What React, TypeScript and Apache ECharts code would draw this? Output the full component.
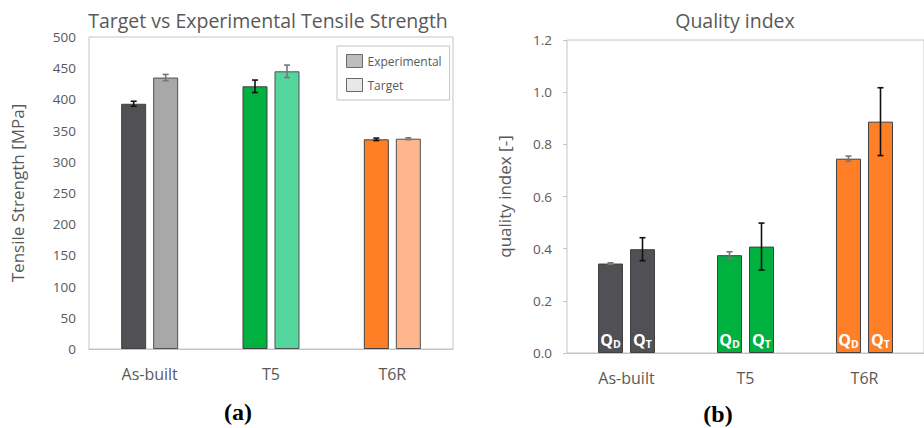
import React, { useEffect, useRef } from "react";
import * as echarts from "echarts";

// Heat-treatment conditions shared by both panels
const categories = ["As-built", "T5", "T6R"];

// Panel (a): tensile strength [MPa]
const experimental = [393, 421, 336];
const experimentalErr = [4, 10, 2];
const target = [435, 445, 337];
const targetErr = [5, 10, 1.5];

// Panel (b): quality index [-]
const qualityD = [0.343, 0.375, 0.745];
const qualityDErr = [0.003, 0.013, 0.01];
const qualityT = [0.398, 0.408, 0.887];
const qualityTErr = [0.044, 0.09, 0.13];

const darkColors = ["#505055", "#00b140", "#ff7f27"];
const lightColors = ["#a8a8a8", "#55d69d", "#ffb68c"];

const FONT = '"Open Sans", "DejaVu Sans", sans-serif';
const SERIF = '"Liberation Serif", "DejaVu Serif", serif';
const TEXT = "#595959";
const BAR_W = 25;
const OFFSET = 16;

function errorSeries(
  axis: number,
  values: number[],
  errs: number[],
  offset: number,
  color: string
) {
  return {
    type: "custom",
    xAxisIndex: axis,
    yAxisIndex: axis,
    z: 10,
    silent: true,
    data: values.map((v, i) => [i, v - errs[i], v + errs[i]]),
    encode: { x: 0, y: [1, 2] },
    renderItem: (_params: any, api: any) => {
      const lo = api.coord([api.value(0), api.value(1)]);
      const hi = api.coord([api.value(0), api.value(2)]);
      const x = lo[0] + offset;
      const h = 3;
      const style = { stroke: color, lineWidth: 1.6 };
      return {
        type: "group",
        children: [
          { type: "line", shape: { x1: x, y1: hi[1], x2: x, y2: lo[1] }, style },
          { type: "line", shape: { x1: x - h, y1: hi[1], x2: x + h, y2: hi[1] }, style },
          { type: "line", shape: { x1: x - h, y1: lo[1], x2: x + h, y2: lo[1] }, style },
        ],
      };
    },
  };
}

function qLabel(sub: string) {
  return {
    show: true,
    position: "insideBottom",
    distance: 4,
    formatter: `{q|Q}{s|${sub}}`,
    rich: {
      q: { fontFamily: FONT, fontSize: 16, fontWeight: "bold", color: "#ffffff", lineHeight: 18 },
      s: {
        fontFamily: FONT,
        fontSize: 10.5,
        fontWeight: "bold",
        color: "#ffffff",
        lineHeight: 18,
        verticalAlign: "bottom",
        padding: [6, 0, 0, 0],
      },
    },
  };
}

export default function App() {
  const ref = useRef<HTMLDivElement>(null);

  useEffect(() => {
    document.body.style.margin = "0";
    const chart = echarts.init(ref.current!, undefined, { renderer: "svg" });

    const axisLabel = { color: TEXT, fontFamily: FONT, fontSize: 13.5 };
    const catLabel = { color: TEXT, fontFamily: FONT, fontSize: 16, margin: 17 };
    const nameStyle = { color: TEXT, fontFamily: FONT, fontSize: 17 };

    chart.setOption({
      animation: false,
      backgroundColor: "#ffffff",
      grid: [
        { left: 89, top: 37, width: 364, height: 312, show: true, borderColor: "#c4c4c4", borderWidth: 1 },
        { left: 567, top: 40, width: 366, height: 313, show: true, borderColor: "#c4c4c4", borderWidth: 1 },
      ],
      xAxis: [
        {
          type: "category",
          gridIndex: 0,
          data: categories,
          axisLine: { lineStyle: { color: "#c4c4c4" } },
          axisTick: { show: false },
          axisLabel: catLabel,
        },
        {
          type: "category",
          gridIndex: 1,
          data: categories,
          axisLine: { lineStyle: { color: "#c4c4c4" } },
          axisTick: { show: false },
          axisLabel: catLabel,
        },
      ],
      yAxis: [
        {
          type: "value",
          gridIndex: 0,
          min: 0,
          max: 500,
          interval: 50,
          splitLine: { show: false },
          axisLine: { show: false },
          axisTick: { show: false },
          axisLabel: { ...axisLabel, margin: 13 },
          name: "Tensile Strength [MPa]",
          nameLocation: "middle",
          nameGap: 63,
          nameTextStyle: nameStyle,
        },
        {
          type: "value",
          gridIndex: 1,
          min: 0,
          max: 1.2,
          interval: 0.2,
          splitLine: { show: false },
          axisLine: { show: false },
          axisTick: { show: true, length: 4, lineStyle: { color: "#c4c4c4" } },
          axisLabel: { ...axisLabel, margin: 15, formatter: (v: number) => v.toFixed(1) },
          name: "quality index [-]",
          nameLocation: "middle",
          nameGap: 54,
          nameTextStyle: nameStyle,
        },
      ],
      legend: {
        left: 337,
        top: 46,
        orient: "vertical",
        padding: [8, 8, 8, 9],
        itemGap: 10,
        itemWidth: 16,
        itemHeight: 13,
        borderColor: "#c4c4c4",
        borderWidth: 1,
        textStyle: { color: TEXT, fontFamily: FONT, fontSize: 12 },
        data: [
          { name: "Experimental", icon: "rect", itemStyle: { color: "#bdbdbd", borderColor: "#6a6a6a", borderWidth: 1 } },
          { name: "Target", icon: "rect", itemStyle: { color: "#e8e8e8", borderColor: "#6a6a6a", borderWidth: 1 } },
        ],
      },
      graphic: [
        {
          type: "text",
          x: 268,
          y: 20,
          style: {
            text: "Target vs Experimental Tensile Strength",
            fill: TEXT,
            font: `19.5px ${FONT}`,
            textAlign: "center",
            textVerticalAlign: "middle",
          },
        },
        {
          type: "text",
          x: 735,
          y: 20,
          style: {
            text: "Quality index",
            fill: TEXT,
            font: `19.5px ${FONT}`,
            textAlign: "center",
            textVerticalAlign: "middle",
          },
        },
        {
          type: "text",
          x: 238,
          y: 412,
          style: {
            text: "(a)",
            fill: "#000000",
            font: `bold 24px ${SERIF}`,
            textAlign: "center",
            textVerticalAlign: "middle",
          },
        },
        {
          type: "text",
          x: 718,
          y: 414,
          style: {
            text: "(b)",
            fill: "#000000",
            font: `bold 24px ${SERIF}`,
            textAlign: "center",
            textVerticalAlign: "middle",
          },
        },
      ],
      series: [
        {
          name: "Experimental",
          type: "bar",
          xAxisIndex: 0,
          yAxisIndex: 0,
          barWidth: BAR_W,
          barGap: "28%",
          data: experimental.map((v, i) => ({
            value: v,
            itemStyle: { color: darkColors[i], borderColor: "#404040", borderWidth: 1 },
          })),
        },
        {
          name: "Target",
          type: "bar",
          xAxisIndex: 0,
          yAxisIndex: 0,
          barWidth: BAR_W,
          barGap: "28%",
          data: target.map((v, i) => ({
            value: v,
            itemStyle: { color: lightColors[i], borderColor: "#505050", borderWidth: 1 },
          })),
        },
        {
          name: "QD",
          type: "bar",
          xAxisIndex: 1,
          yAxisIndex: 1,
          barWidth: BAR_W,
          barGap: "28%",
          label: qLabel("D"),
          data: qualityD.map((v, i) => ({
            value: v,
            itemStyle: { color: darkColors[i], borderColor: "#404040", borderWidth: 1 },
          })),
        },
        {
          name: "QT",
          type: "bar",
          xAxisIndex: 1,
          yAxisIndex: 1,
          barWidth: BAR_W,
          barGap: "28%",
          label: qLabel("T"),
          data: qualityT.map((v, i) => ({
            value: v,
            itemStyle: { color: darkColors[i], borderColor: "#404040", borderWidth: 1 },
          })),
        },
        errorSeries(0, experimental, experimentalErr, -OFFSET, "#111111"),
        errorSeries(0, target, targetErr, OFFSET, "#777777"),
        errorSeries(1, qualityD, qualityDErr, -OFFSET, "#777777"),
        errorSeries(1, qualityT, qualityTErr, OFFSET, "#111111"),
      ],
    });

    return () => chart.dispose();
  }, []);

  return <div ref={ref} style={{ width: 924, height: 428 }} />;
}
